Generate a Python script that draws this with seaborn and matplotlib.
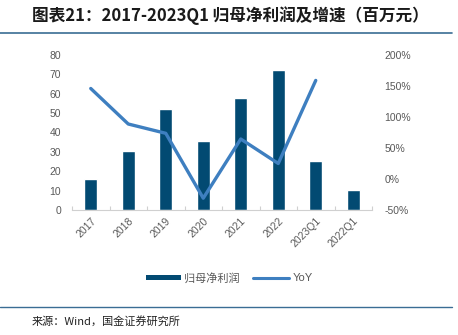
import numpy as np
import pandas as pd
import matplotlib
matplotlib.use("Agg")
import matplotlib.pyplot as plt
from matplotlib.patches import Patch
from matplotlib.lines import Line2D
import seaborn as sns

categories = ["2017", "2018", "2019", "2020", "2021", "2022", "2023Q1", "2022Q1"]
net_profit = [16.0, 30.3, 52.2, 35.6, 57.6, 72.2, 25.3, 10.1]
yoy_pct = [146.0, 88.7, 73.7, -31.0, 64.5, 25.0, 159.0, np.nan]
left_ticks = [0, 10, 20, 30, 40, 50, 60, 70, 80]
right_ticks = [-50, 0, 50, 100, 150, 200]

sns.set_theme(style="white")
plt.rcParams["font.family"] = ["Liberation Sans", "Noto Sans CJK SC", "DejaVu Sans"]

BAR_C = "#024a72"
LINE_C = "#3e7fc0"
TXT_C = "#595959"

df = pd.DataFrame({"cat": categories, "profit": net_profit,
                   "pos": np.arange(len(categories)), "yoy": yoy_pct})

fig = plt.figure(figsize=(4.58, 3.35), dpi=100)
ax = fig.add_axes([72 / 458, 1 - 210 / 335, 300 / 458, 155 / 335])

sns.barplot(data=df, x="cat", y="profit", color=BAR_C, width=0.34,
            saturation=1, ax=ax, zorder=2)
ax.set_xlim(-0.5, len(categories) - 0.5)
ax.set_ylim(0, 80)
ax.set_yticks(left_ticks)
ax.set_xlabel("")
ax.set_ylabel("")

ax2 = ax.twinx()
sns.lineplot(data=df, x="pos", y="yoy", color=LINE_C, lw=2.4, ax=ax2)
ax2.set_ylim(-50, 200)
ax2.set_yticks(right_ticks)
ax2.set_yticklabels([f"{t}%" for t in right_ticks])
ax2.set_ylabel("")
ax2.set_xlim(-0.5, len(categories) - 0.5)

for a in (ax, ax2):
    for s in a.spines.values():
        s.set_visible(False)
    a.tick_params(axis="y", length=0, labelsize=7.5, labelcolor=TXT_C)
ax.spines["bottom"].set_visible(True)
ax.spines["bottom"].set_color("#d0d0d0")
ax.spines["bottom"].set_linewidth(0.8)
ax.tick_params(axis="y", pad=8)
ax2.tick_params(axis="y", pad=9)

ax.set_xticks(np.arange(len(categories)))
ax.set_xticklabels(categories, rotation=45, ha="right", rotation_mode="anchor")
ax.tick_params(axis="x", which="major", length=0, labelsize=7.5,
               labelcolor=TXT_C, pad=4)
ax.set_xticks(np.arange(-0.5, len(categories)), minor=True)
ax.tick_params(axis="x", which="minor", direction="in", length=3,
               color="#d0d0d0", width=0.8, bottom=True)

handles = [Patch(facecolor=BAR_C, edgecolor="none", label="归母净利润"),
           Line2D([0], [0], color=LINE_C, lw=2.2, label="YoY")]
fig.legend(handles=handles, loc="center", bbox_to_anchor=(0.5, 1 - 278 / 335),
           ncol=2, frameon=False, fontsize=8, handlelength=3.2,
           handleheight=0.4, columnspacing=1.2, handletextpad=0.3,
           labelcolor=TXT_C)

fig.text(32 / 458, 1 - 16 / 335, "图表21：2017-2023Q1 归母净利润及增速（百万元）",
         fontsize=12, fontweight="bold", style="italic", va="center",
         ha="left", color="#1a1a1a",
         family=["Noto Sans CJK SC", "DejaVu Sans"])
fig.add_artist(Line2D([0, 452 / 458], [1 - 33 / 335] * 2, color="#3a6d94",
                      lw=1.2, transform=fig.transFigure))
fig.add_artist(Line2D([0, 452 / 458], [1 - 307 / 335] * 2, color="#3a6d94",
                      lw=1.0, transform=fig.transFigure))
fig.text(32 / 458, 1 - 321 / 335, "来源：Wind，国金证券研究所", fontsize=8,
         va="center", ha="left", color="#222222",
         family=["Noto Sans CJK SC", "DejaVu Sans"])

fig.savefig("out.png", dpi=100)
